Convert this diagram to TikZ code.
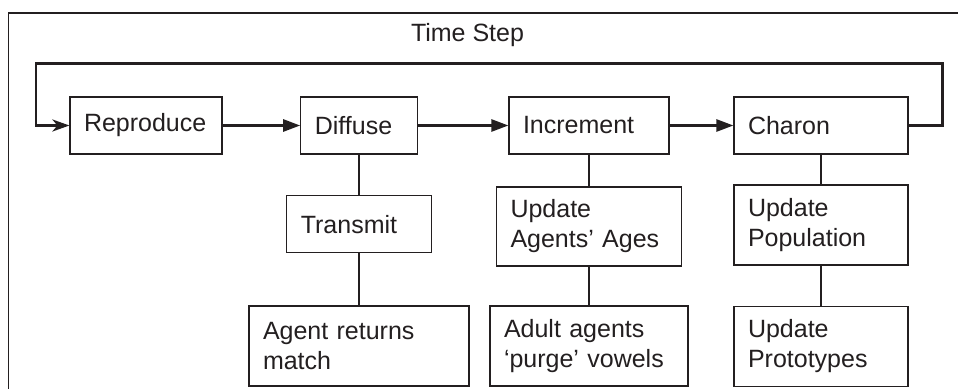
\documentclass[tikz,border=0pt]{standalone}
\usepackage{fontspec}
\setmainfont{Liberation Sans}
\usepackage{tikz}
\usetikzlibrary{arrows.meta}

\definecolor{ink}{HTML}{231F20}

\tikzset{
  stage/.style={draw=ink, line width=0.6pt, rectangle, align=left,
    inner xsep=7pt, inner ysep=0pt, minimum height=28.5pt,
    font=\fontsize{12.5}{15}\selectfont, text=ink},
  flow/.style={draw=ink, line width=1.3pt, -{Triangle[length=8.5pt,width=6pt]}},
  link/.style={draw=ink, line width=0.6pt}
}

\begin{document}
\begin{tikzpicture}[x=0.5pt, y=-0.5pt]
\clip (0,0) rectangle (958,389);
\fill[white] (0,0) rectangle (958,389);
\draw[ink, line width=0.6pt] (8.5,13) rectangle (980,420);

\node[anchor=base, font=\fontsize{12.5}{15}\selectfont, text=ink] (title) at (467.5,41.7) {Time Step};

% main stages
\node[stage, text width=62pt] (rep) at (146,125.5) {Reproduce};
\node[stage, text width=44.2pt] (dif) at (359,125.5) {Diffuse};
\node[stage, text width=66pt] (inc) at (589,125.5) {Increment};
\node[stage, text width=73pt] (cha) at (821,125.5) {Charon};

% sub steps
\node[stage, text width=58.2pt] (tra) at (359,224.2) {Transmit};
\node[stage, text width=96pt, minimum height=40pt] (arm) at (359,346) {Agent returns\\match};
\node[stage, text width=78.5pt, minimum height=39.5pt] (upa) at (589,226.5) {Update\\Agents' Ages};
\node[stage, text width=85pt, minimum height=40pt] (adu) at (589,346) {Adult agents\\`purge' vowels};
\node[stage, text width=73pt, minimum height=40pt] (upp) at (821,225) {Update\\Population};
\node[stage, text width=73pt, minimum height=40pt] (upr) at (821,346.5) {Update\\Prototypes};

\draw[flow] (rep) -- (dif);
\draw[flow] (dif) -- (inc);
\draw[flow] (inc) -- (cha);

% loop back to the start
\coordinate (turnR) at (942.5,63.3);
\coordinate (turnL) at (36,63.3);
\draw[flow, -{Stealth[length=8.5pt,width=6pt,inset=2.5pt]}, line join=miter]
  (cha.east) -| (turnR) -- (turnL) |- (rep.west);

\draw[link] (dif) -- (tra);
\draw[link] (tra) -- (arm);
\draw[link] (inc) -- (upa);
\draw[link] (upa) -- (adu);
\draw[link] (cha) -- (upp);
\draw[link] (upp) -- (upr);
\end{tikzpicture}
\end{document}
